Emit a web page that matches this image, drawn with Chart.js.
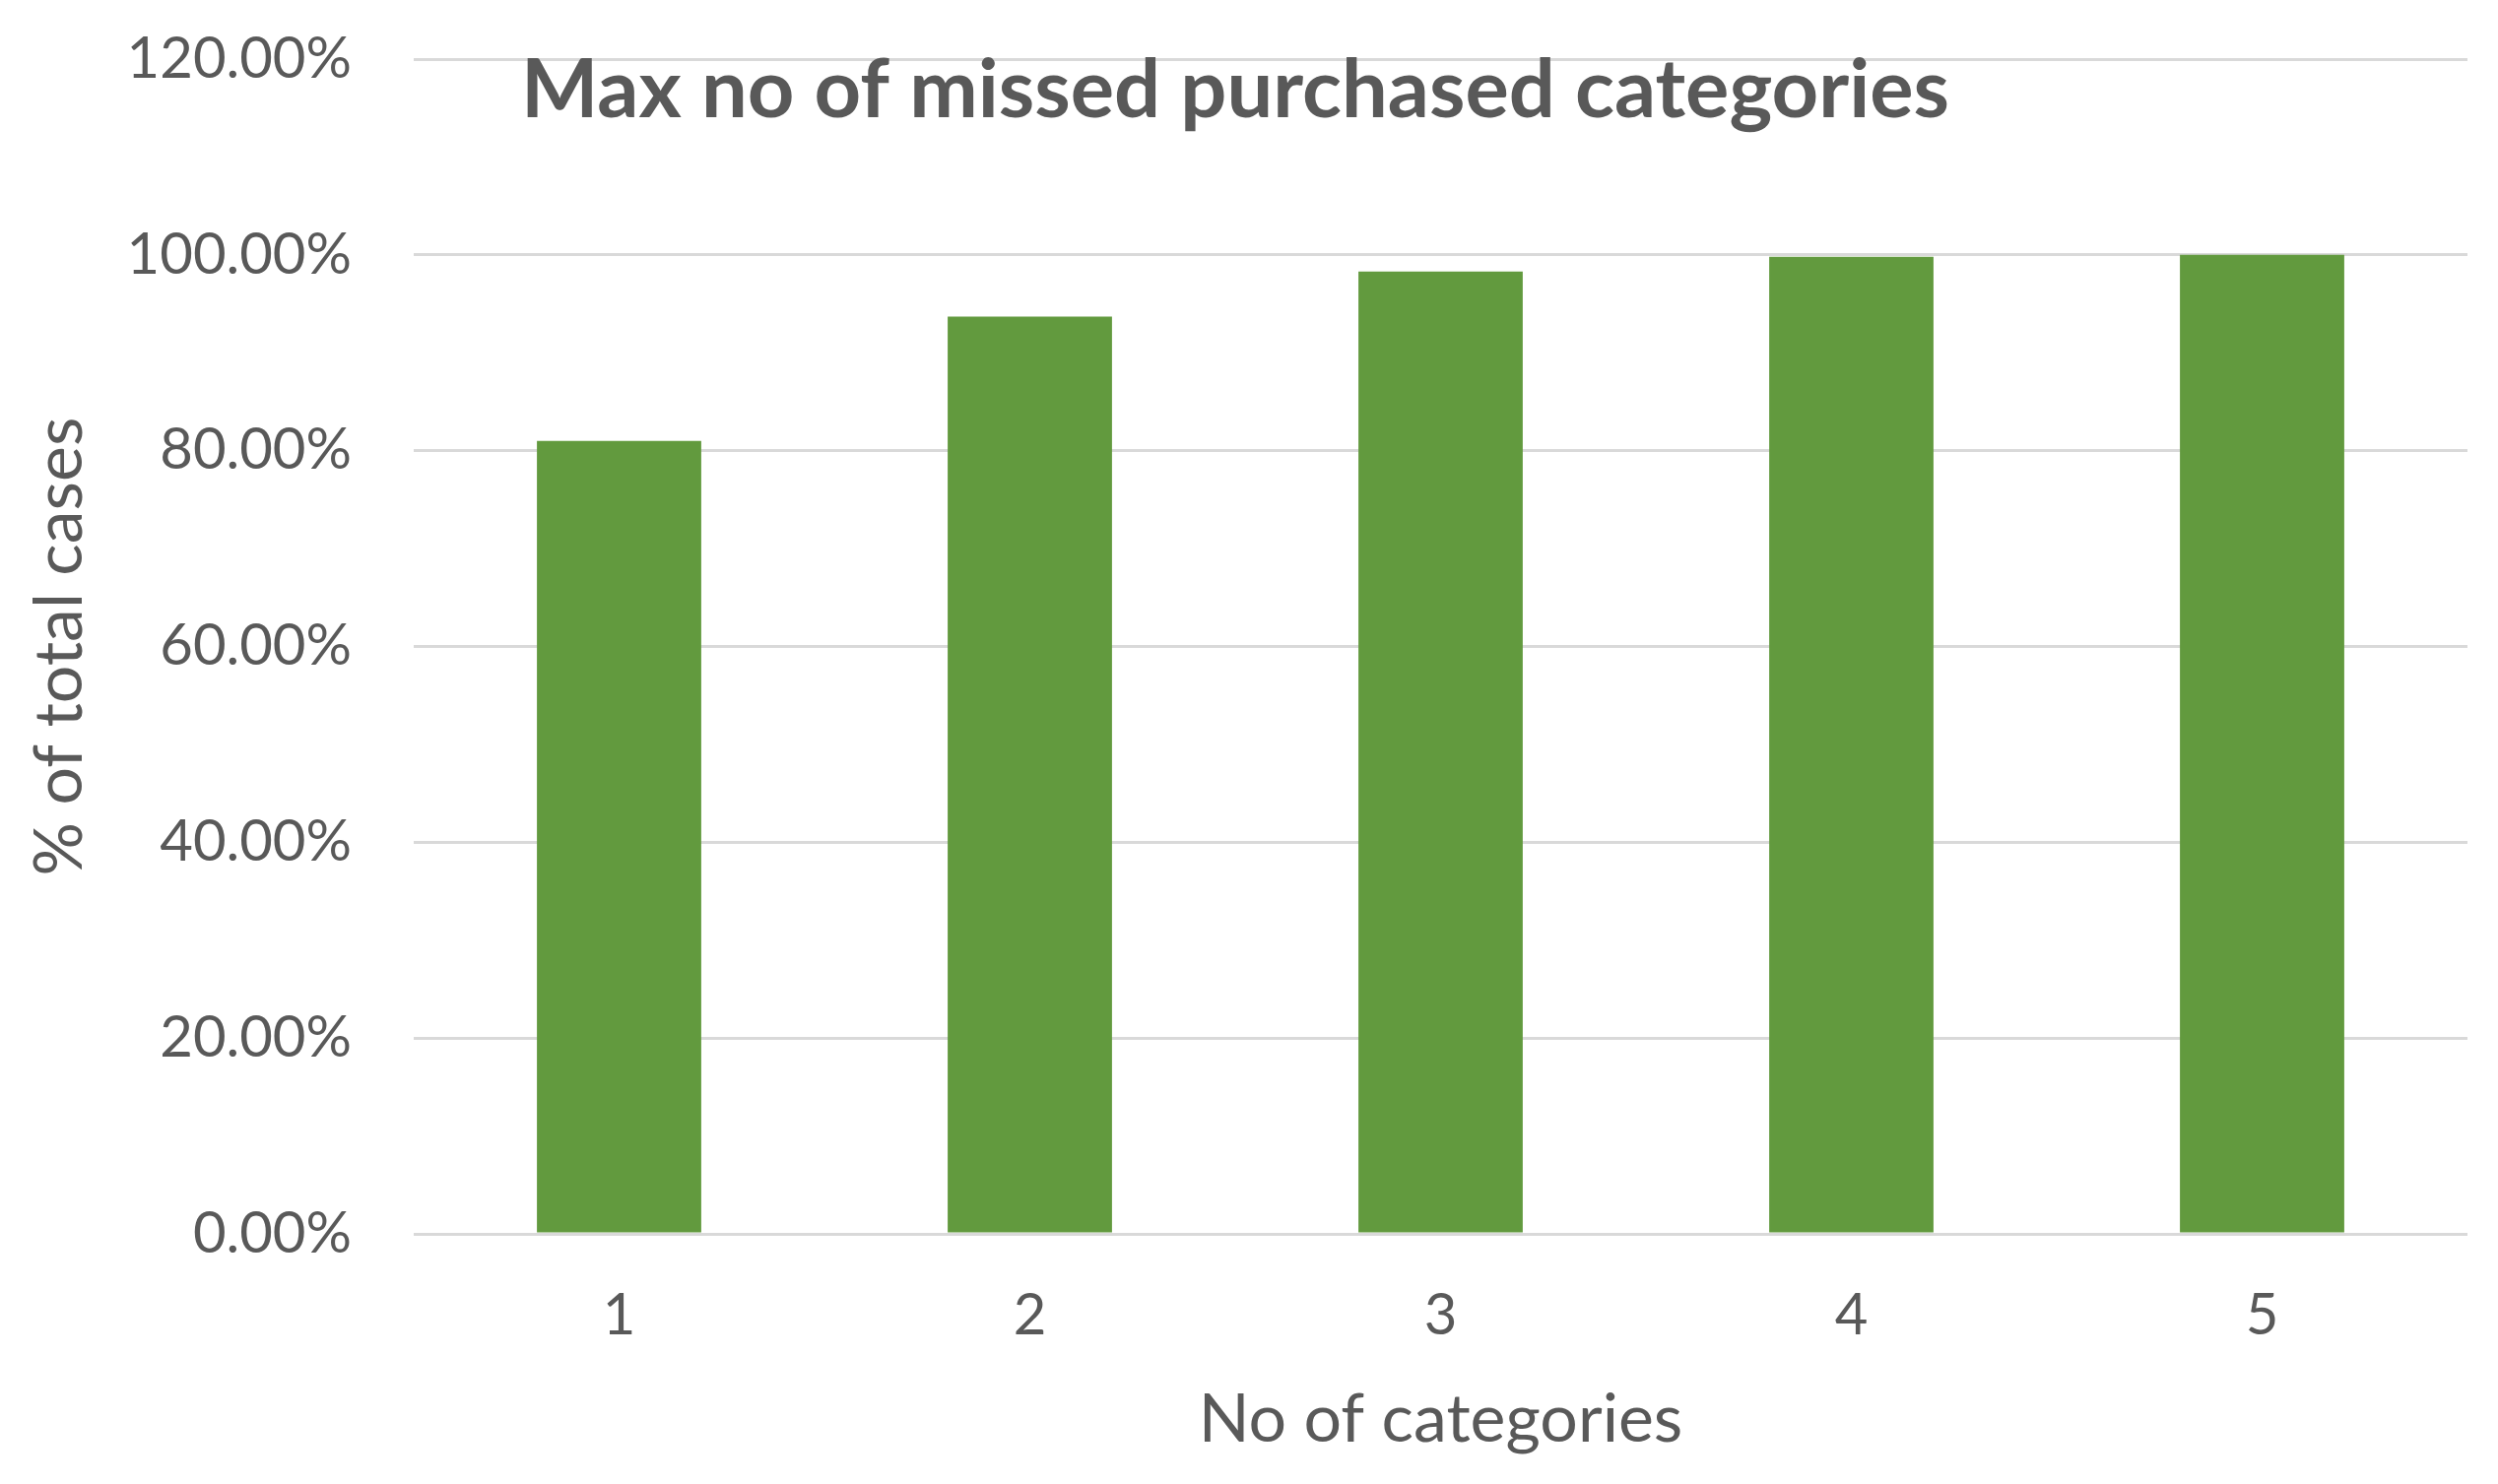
<!DOCTYPE html>
<html>
<head>
<meta charset="utf-8">
<script src="https://cdn.jsdelivr.net/npm/chart.js@4.4.1/dist/chart.umd.min.js"></script>
<style>
  html, body { margin: 0; padding: 0; background: #fff; }
  #wrap { width: 2536px; height: 1507px; }
</style>
</head>
<body>
<div id="wrap"><canvas id="chart" width="2536" height="1507"></canvas></div>
<script>
// values (percent of total cases)
const categories = ['1', '2', '3', '4', '5'];
const pctCases = [81.0, 93.7, 98.3, 99.8, 100.0];
const yTicks = [0, 20, 40, 60, 80, 100, 120];

const chartTitle = 'Max no of missed purchased categories';
const xTitle = 'No of categories';
const yTitle = '% of total cases';

const grey = '#595959';
const font = 'Lato, "Open Sans", sans-serif';

// title sits inside the plot, between the top two gridlines, like the Excel original
const titleInPlot = {
    id: 'titleInPlot',
    afterDraw(chart) {
        const ctx = chart.ctx;
        ctx.save();
        ctx.font = 'bold 83px ' + font;
        ctx.fillStyle = grey;
        ctx.textAlign = 'center';
        ctx.textBaseline = 'middle';
        ctx.fillText(chartTitle, 1254, 92);
        ctx.restore();
    }
};

Chart.defaults.font.family = font;
Chart.defaults.color = grey;

new Chart(document.getElementById('chart'), {
    type: 'bar',
    data: {
        labels: categories,
        datasets: [{
            data: pctCases,
            backgroundColor: '#629A3E',
            borderWidth: 0,
            barPercentage: 0.4,
            categoryPercentage: 1.0
        }]
    },
    options: {
        responsive: false,
        animation: false,
        layout: { padding: { left: 0, top: 60, right: 31, bottom: 0 } },
        plugins: {
            legend: { display: false },
            tooltip: { enabled: false }
        },
        scales: {
            x: {
                grid: { display: false, drawTicks: false },
                border: { display: false },
                ticks: { font: { size: 58 }, padding: 48, color: grey },
                title: { display: true, text: xTitle, font: { size: 68 }, color: grey, padding: { top: 0, bottom: 24 } },
                afterFit: s => { s.height = 254; }
            },
            y: {
                min: 0,
                max: 120,
                afterBuildTicks: s => { s.ticks = yTicks.map(v => ({ value: v })); },
                grid: { color: '#D9D9D9', lineWidth: 3, drawTicks: false },
                border: { display: false },
                ticks: {
                    font: { size: 58 },
                    padding: 63,
                    color: grey,
                    callback: v => v.toFixed(2) + '%'
                },
                title: { display: true, text: yTitle, font: { size: 68 }, color: grey, padding: { top: 20, bottom: 0 } },
                // fixed width, and don't let tick padding push the plot top down
                afterFit: s => { s.width = 420; s.paddingTop = 0; s.paddingBottom = 0; }
            }
        }
    },
    plugins: [titleInPlot]
});
</script>
</body>
</html>
